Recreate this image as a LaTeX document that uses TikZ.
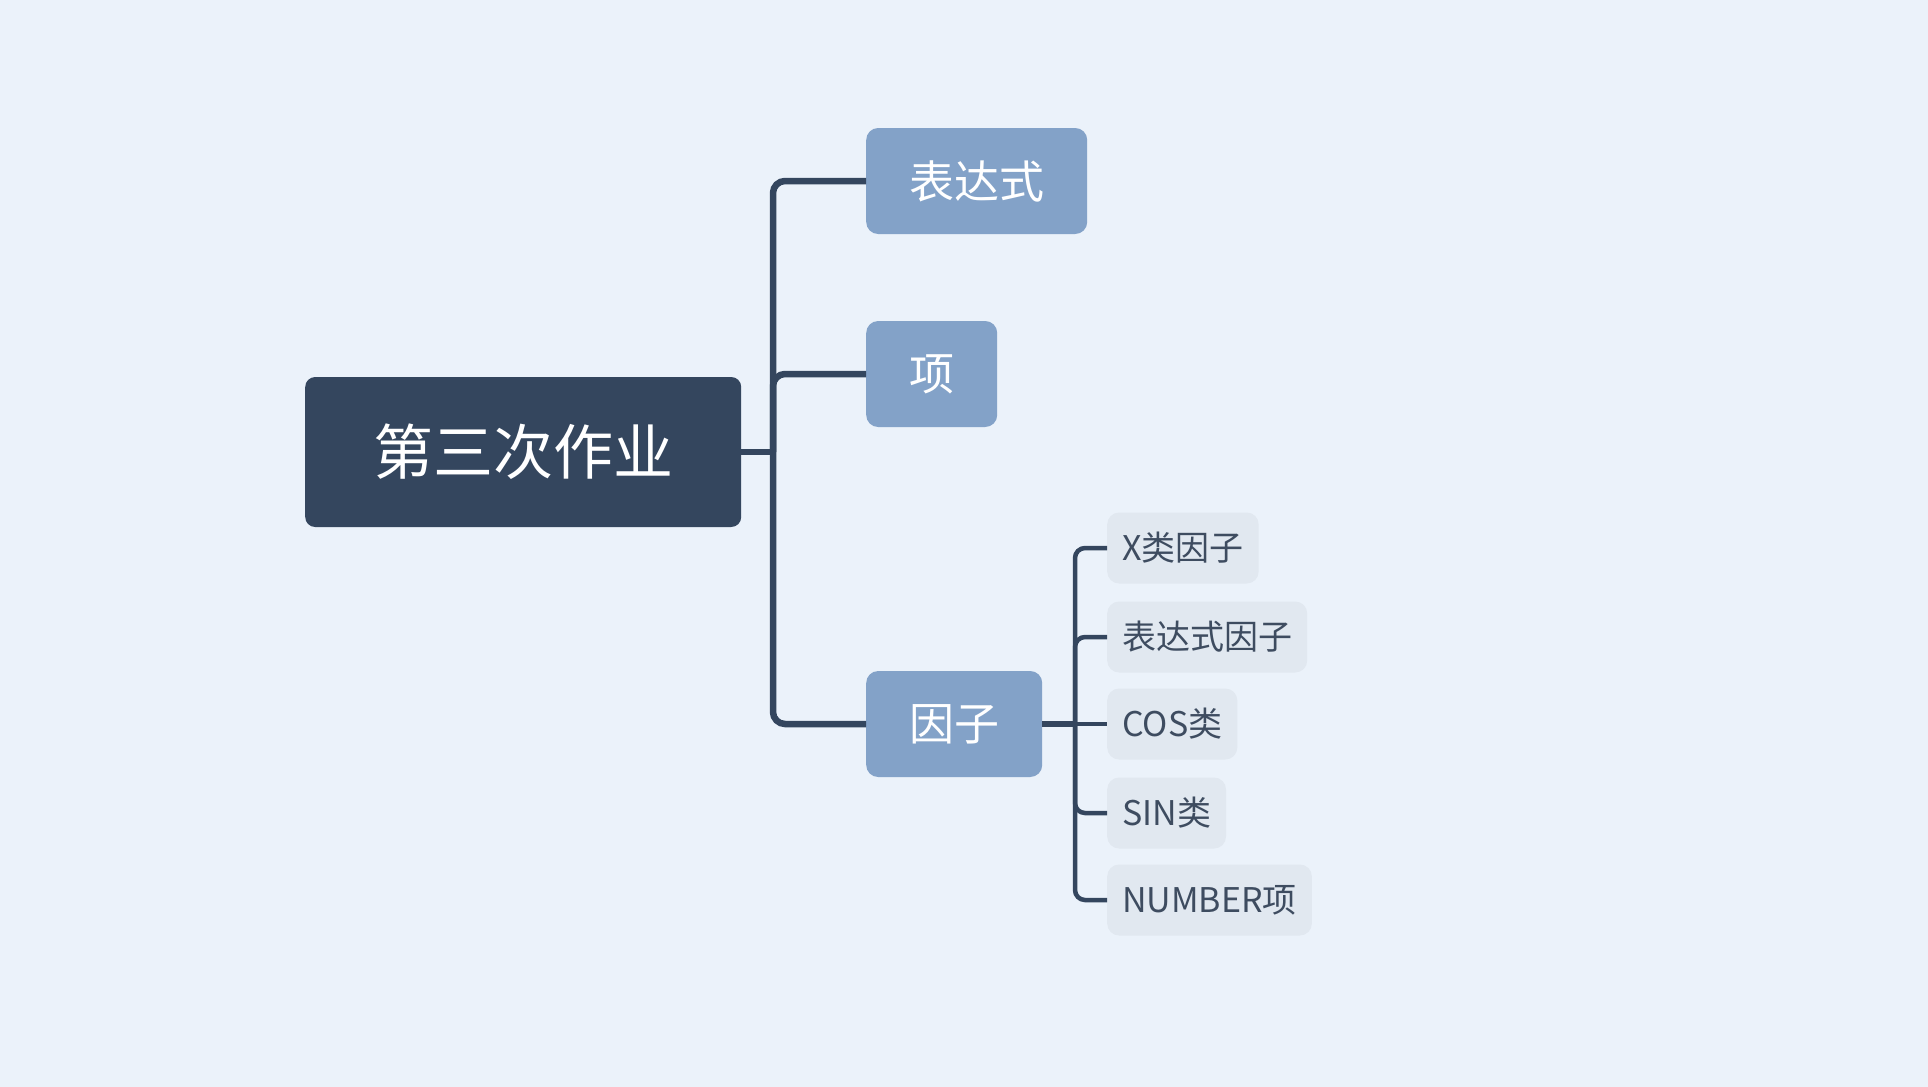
\documentclass[tikz,border=0pt]{standalone}
\usepackage{fontspec}
\newfontfamily\cjk{Noto Sans CJK SC}
\definecolor{bgc}{HTML}{EBF2FA}
\definecolor{rootc}{HTML}{34465E}
\definecolor{lvlc}{HTML}{83A2C8}
\definecolor{leafc}{HTML}{E1E8F0}
\definecolor{linec}{HTML}{34465E}
\definecolor{leaftxt}{HTML}{3E4C60}
\tikzset{
  rootbox/.style={fill=rootc, text=white, rounded corners=10pt, minimum height=150pt, inner xsep=68pt, anchor=west, font=\cjk\fontsize{60}{70}\selectfont},
  lvlbox/.style={fill=lvlc, text=white, rounded corners=12pt, minimum height=106pt, inner xsep=43pt, anchor=west, font=\cjk\fontsize{45}{54}\selectfont},
  leafbox/.style={fill=leafc, text=leaftxt, rounded corners=12pt, minimum height=71pt, inner xsep=15pt, anchor=west, font=\cjk\fontsize{34}{42}\selectfont},
  mainline/.style={draw=linec, line width=6.5pt, rounded corners=12pt},
  subline/.style={draw=linec, line width=4.5pt, rounded corners=10pt}
}
\begin{document}
\begin{tikzpicture}[x=1pt,y=-1pt]
\fill[bgc] (0,0) rectangle (1928,1087);
\useasboundingbox (0,0) rectangle (1928,1087);
\node[rootbox] (root) at (305,452) {第三次作业};
\node[lvlbox] (expr) at (866,181) {表达式};
\node[lvlbox] (term) at (866,374) {项};
\node[lvlbox] (fac) at (866,724) {因子};
\node[leafbox] (l1) at (1107,548) {X类因子};
\node[leafbox] (l2) at (1107,637) {表达式因子};
\node[leafbox] (l3) at (1107,724) {COS类};
\node[leafbox] (l4) at (1107,813) {SIN类};
\node[leafbox] (l5) at (1107,900) {NUMBER项};
\coordinate (tr) at (773,452);
\coordinate (ftr) at (1075,724);
\draw[mainline] (root.east) -- (tr);
\draw[mainline] (expr.west) -| (tr) |- (fac.west);
\draw[mainline] (tr) |- (term.west);
\draw[subline] (l1.west) -| (ftr) |- (l5.west);
\draw[mainline] (fac.east) -- (ftr);
\draw[subline] (ftr) -- (l3.west);
\draw[subline] (ftr) |- (l2.west);
\draw[subline] (ftr) |- (l4.west);
\end{tikzpicture}
\end{document}
